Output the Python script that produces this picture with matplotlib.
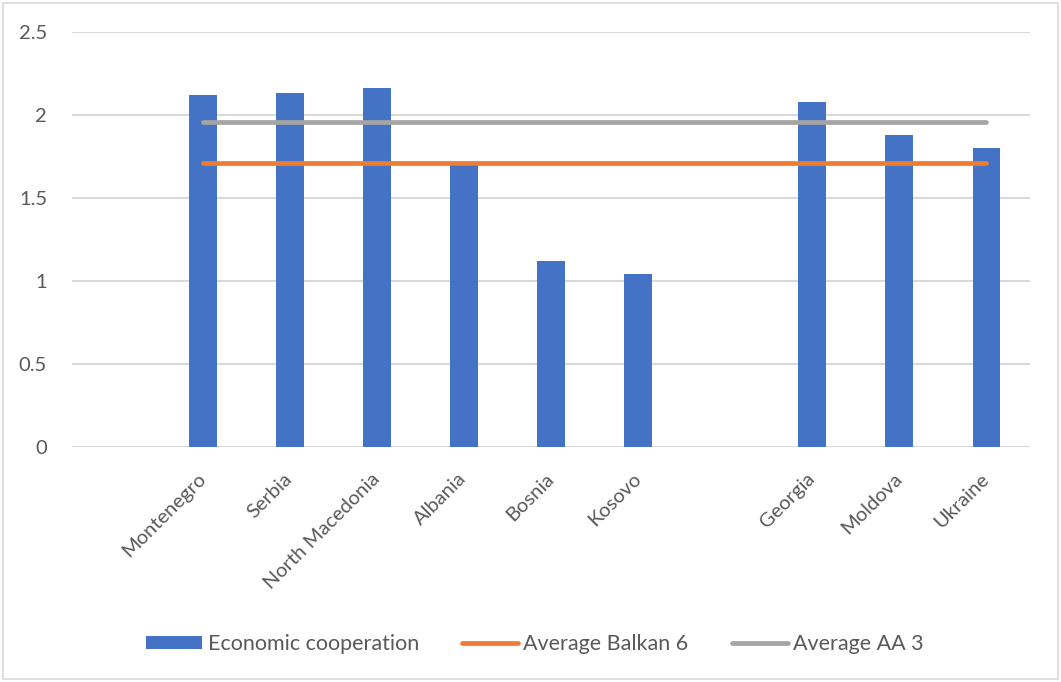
import numpy as np
import matplotlib.pyplot as plt
from matplotlib.patches import Rectangle

plt.rcParams['font.family'] = ['Lato', 'DejaVu Sans']

# category slots, blanks keep the gap between the two groups
countries = ['', 'Montenegro', 'Serbia', 'North Macedonia', 'Albania', 'Bosnia',
             'Kosovo', '', 'Georgia', 'Moldova', 'Ukraine']
econ_coop = [np.nan, 2.12, 2.13, 2.16, 1.70, 1.12, 1.04, np.nan, 2.08, 1.88, 1.80]
avg_balkan6 = [np.nan, 1.71, 1.71, 1.71, 1.71, 1.71, 1.71, 1.71, 1.71, 1.71, 1.71]
avg_aa3 = [np.nan, 1.96, 1.96, 1.96, 1.96, 1.96, 1.96, 1.96, 1.96, 1.96, 1.96]
yticks = [0, 0.5, 1, 1.5, 2, 2.5]

txt_col = '#595959'
grid_col = '#D9D9D9'

fig = plt.figure(figsize=(10.61, 6.82), dpi=100)
ax = fig.add_axes([72/1061, 1-447/682, (1030-72)/1061, (447-32)/682])

x = np.arange(len(countries))
bars = ax.bar(x, econ_coop, width=0.32, color='#4472C4', label='Economic cooperation', zorder=2)
l1, = ax.plot(x, avg_balkan6, color='#ED7D31', lw=3.4, solid_capstyle='round', label='Average Balkan 6', zorder=3)
l2, = ax.plot(x, avg_aa3, color='#A5A5A5', lw=3.4, solid_capstyle='round', label='Average AA 3', zorder=3)

ax.set_xlim(-0.5, len(countries) - 0.5)
ax.set_ylim(0, 2.5)
ax.set_yticks(yticks)
ax.set_yticklabels([f'{v:g}' for v in yticks])
ax.set_xticks(x)
ax.set_xticklabels(countries, rotation=45, ha='right', va='center', rotation_mode='anchor')
ax.tick_params(axis='both', length=0, labelcolor=txt_col, labelsize=14.5)
ax.tick_params(axis='y', pad=18)
ax.tick_params(axis='x', pad=21)
for s in ax.spines.values():
    s.set_visible(False)
ax.grid(axis='y', color=grid_col, lw=1.5, zorder=0)

leg = fig.legend([bars, l1, l2], [bars.get_label(), l1.get_label(), l2.get_label()],
                 loc='center', bbox_to_anchor=(535/1061, 1-644/682), ncol=3, frameon=False,
                 fontsize=15.5, handlelength=2.6, handleheight=0.6, handletextpad=0.25,
                 columnspacing=2.0)
for t in leg.get_texts():
    t.set_color(txt_col)

# outer chart frame
fig.patches.append(Rectangle((3/1061, 3/682), 1 - 6/1061, 1 - 6/682, transform=fig.transFigure,
                             fill=False, edgecolor=grid_col, lw=1.2))

fig.savefig('out.png', dpi=100)
